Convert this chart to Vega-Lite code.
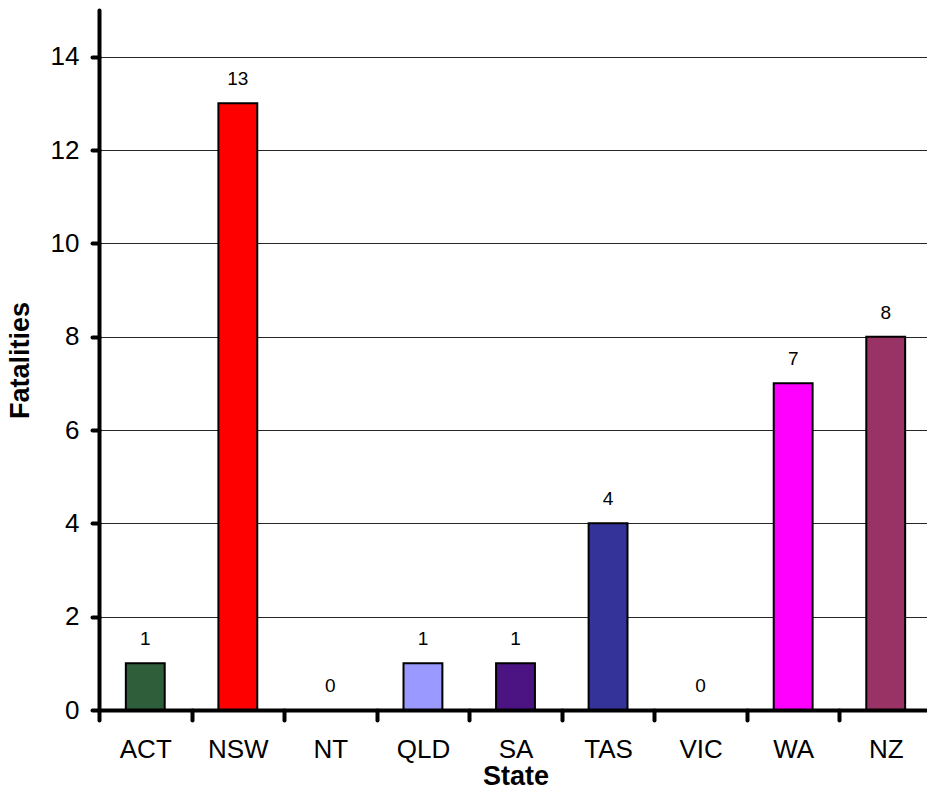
{
  "$schema": "https://vega.github.io/schema/vega-lite/v6.json",
  "autosize": {"type": "none"},
  "width": 828,
  "height": 700,
  "padding": {"left": 99, "top": 10, "right": 0, "bottom": 82},
  "background": "white",
  "config": {
    "view": {"stroke": null},
    "font": "Liberation Sans"
  },
  "data": {
    "values": [
      {"State": "ACT", "Fatalities": 1},
      {"State": "NSW", "Fatalities": 13},
      {"State": "NT", "Fatalities": 0},
      {"State": "QLD", "Fatalities": 1},
      {"State": "SA", "Fatalities": 1},
      {"State": "TAS", "Fatalities": 4},
      {"State": "VIC", "Fatalities": 0},
      {"State": "WA", "Fatalities": 7},
      {"State": "NZ", "Fatalities": 8}
    ]
  },
  "encoding": {
    "x": {
      "field": "State",
      "type": "nominal",
      "sort": null,
      "scale": {"range": [0, 833], "paddingInner": 0, "paddingOuter": 0},
      "axis": {
        "title": "State",
        "titleFont": "Liberation Sans",
        "titleFontSize": 27,
        "titleFontWeight": "bold",
        "titleColor": "#000",
        "titlePadding": 1,
        "labelAngle": 0,
        "labelFontSize": 26,
        "labelColor": "#000",
        "labelPadding": 16,
        "tickBand": "extent",
        "tickSize": 10,
        "tickWidth": 4,
        "tickColor": "#000",
        "tickCap": "round",
        "domainWidth": 4,
        "domainColor": "#000",
        "domainCap": "round",
        "zindex": 1
      }
    },
    "y": {
      "field": "Fatalities",
      "type": "quantitative",
      "scale": {"domain": [0, 15], "nice": false},
      "axis": {
        "title": "Fatalities",
        "titleFontSize": 27,
        "titleFontWeight": "bold",
        "titleColor": "#000",
        "titlePadding": 16,
        "values": [0, 2, 4, 6, 8, 10, 12, 14],
        "labelFontSize": 26,
        "labelColor": "#000",
        "labelPadding": 13,
        "tickSize": 7,
        "tickWidth": 4,
        "tickColor": "#000",
        "tickCap": "round",
        "domainWidth": 4,
        "domainColor": "#000",
        "domainCap": "round",
        "grid": true,
        "gridColor": "#000",
        "gridWidth": 1,
        "gridOpacity": 0.85
      }
    }
  },
  "layer": [
    {
      "mark": {"type": "bar", "width": {"band": 0.42}, "stroke": "#000", "strokeWidth": 2},
      "encoding": {
        "color": {
          "field": "State",
          "type": "nominal",
          "legend": null,
          "scale": {
            "domain": ["ACT", "NSW", "NT", "QLD", "SA", "TAS", "VIC", "WA", "NZ"],
            "range": ["#2F5E3B", "#FF0000", "#FFFFFF", "#9999FF", "#4B1482", "#333399", "#FFFFFF", "#FF00FF", "#993366"]
          }
        }
      }
    },
    {
      "mark": {"type": "text", "baseline": "alphabetic", "dy": -18, "fontSize": 19, "color": "#000", "font": "Liberation Sans"},
      "encoding": {
        "text": {"field": "Fatalities", "type": "quantitative"}
      }
    }
  ]
}
